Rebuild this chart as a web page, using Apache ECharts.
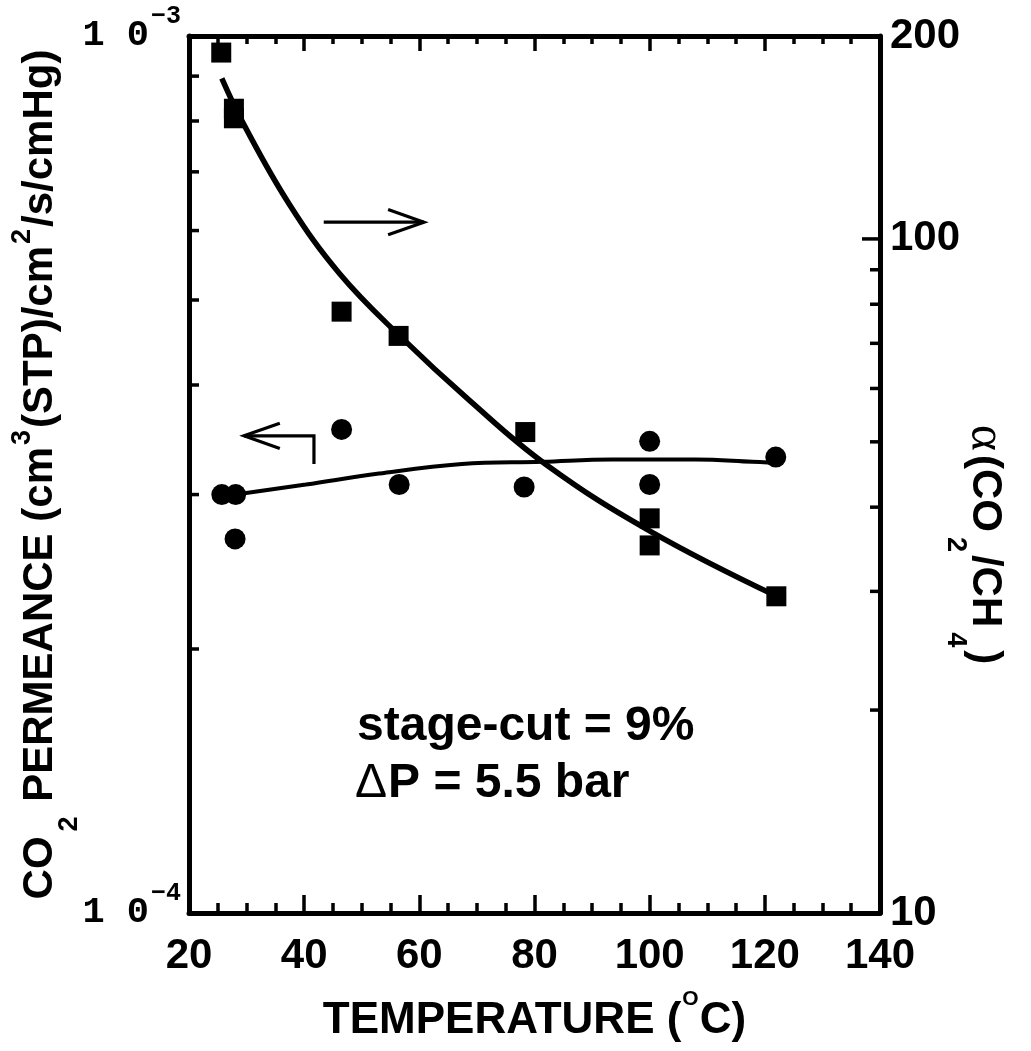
<!DOCTYPE html>
<html>
<head>
<meta charset="utf-8">
<script src="https://cdn.jsdelivr.net/npm/echarts@6/dist/echarts.min.js"></script>
<style>
  html, body { margin: 0; padding: 0; background: #fff; }
  #chart { width: 1031px; height: 1051px; }
</style>
</head>
<body>
<div id="chart"></div>
<script>
// ---- measured data ----
// CO2 permeance (left axis), cm3(STP)/cm2/s/cmHg
const circleTemps = [25.7, 28.1, 28.0, 46.5, 56.5, 78.2, 100, 100, 121.9];
const permeance   = [3.00e-4, 3.00e-4, 2.67e-4, 3.56e-4, 3.08e-4, 3.06e-4, 3.45e-4, 3.08e-4, 3.31e-4];

// CO2/CH4 separation factor (right axis)
const squareTemps = [25.6, 27.8, 27.8, 46.5, 56.4, 78.4, 100, 100, 122];
const alpha       = [189, 156, 151, 78, 71.8, 51.7, 38.5, 35.1, 29.5];

// fitted trend lines
const alphaFitTemps = [25.7, 29.4, 37.5, 46.2, 56.6, 68.8, 82.1, 100.2, 122.1];
const alphaFit      = [173, 148.5, 112.3, 88.7, 71.8, 57.5, 46.2, 36.8, 29.5];
const permFitTemps  = [28.1, 40.3, 53.0, 67.4, 81.3, 93.5, 108, 117.8, 121.9];
const permFit       = [3.00e-4, 3.08e-4, 3.17e-4, 3.25e-4, 3.27e-4, 3.29e-4, 3.29e-4, 3.27e-4, 3.26e-4];

// axes
const tempMin = 20, tempMax = 140, tempStep = 20;
const permMin = 1e-4, permMax = 1e-3;
const alphaMin = 10, alphaMax = 200;
const permMinorTicks  = [2e-4, 3e-4, 4e-4, 5e-4, 6e-4, 7e-4, 8e-4, 9e-4];
const alphaMinorTicks = [20, 30, 40, 50, 60, 70, 80, 90];
const alphaMajorTicks = [100];

// annotation arrows (temperature, axis value); last point is the tip
const alphaArrow = [[43.4, 105.9], [60.8, 105.9]];
const permArrow  = [[41.7, 3.25e-4], [41.7, 3.50e-4], [29.55, 3.50e-4]];

// ---- drawing ----
const SANS = '"Liberation Sans", Arial, Helvetica, sans-serif';
const MONO = '"Liberation Mono", "Courier New", monospace';
const SERIF = '"Liberation Serif", "Times New Roman", serif';
const INK = '#000';

const chart = echarts.init(document.getElementById('chart'), null, { renderer: 'canvas' });

function pairs(xs, ys) { return xs.map((x, i) => [x, ys[i]]); }

function tickRenderer(dir, len) {
  return function (params, api) {
    const p = api.coord([api.value(0), api.value(1)]);
    return {
      type: 'line',
      shape: { x1: p[0], y1: p[1], x2: p[0] + dir * len, y2: p[1] },
      style: { stroke: INK, lineWidth: 3.5 }
    };
  };
}

function arrowRenderer(nPts) {
  return function (params, api) {
    const pts = [];
    for (let i = 0; i < nPts; i++) pts.push(api.coord([api.value(2 * i), api.value(2 * i + 1)]));
    const tip = pts[nPts - 1], prev = pts[nPts - 2];
    const ang = Math.atan2(tip[1] - prev[1], tip[0] - prev[0]);
    const L = 38, spread = 0.34;
    const a1 = [tip[0] - L * Math.cos(ang - spread), tip[1] - L * Math.sin(ang - spread)];
    const a2 = [tip[0] - L * Math.cos(ang + spread), tip[1] - L * Math.sin(ang + spread)];
    return {
      type: 'group',
      children: [
        { type: 'polyline', shape: { points: pts }, style: { stroke: INK, lineWidth: 3.2, fill: null } },
        { type: 'polyline', shape: { points: [a1, tip, a2] }, style: { stroke: INK, lineWidth: 3.2, fill: null } }
      ]
    };
  };
}

function arrowEncode(n) {
  const x = [], y = [];
  for (let i = 0; i < n; i++) { x.push(2 * i); y.push(2 * i + 1); }
  return { x: x, y: y };
}

const tickLabel = { fontFamily: SANS, fontWeight: 'bold', fontSize: 42, color: INK, lineHeight: 42 };

function titleRich(lead) {
  return {
    m:   { fontFamily: SANS, fontWeight: 'bold', fontSize: 42, lineHeight: 80, color: INK },
    a:   { fontFamily: SERIF, fontWeight: 'normal', fontSize: 50, lineHeight: 80, color: INK, padding: [0, 4, 0, lead] },
    sub: { fontFamily: SANS, fontWeight: 'bold', fontSize: 27, verticalAlign: 'bottom', height: 21, color: INK, padding: [0, 3, 0, 5] },
    sup: { fontFamily: SANS, fontWeight: 'bold', fontSize: 27, verticalAlign: 'top', height: 45, color: INK, padding: [0, 2, 0, 2] }
  };
}

function xAxisBase(pos) {
  return {
    type: 'value', gridIndex: 0, position: pos,
    min: tempMin, max: tempMax, interval: tempStep,
    axisLine: { show: true, onZero: false, lineStyle: { color: INK, width: 5 } },
    axisTick: { show: true, inside: true, length: pos === 'bottom' ? 18 : 15, lineStyle: { color: INK, width: 3.5 } },
    minorTick: { show: true, splitNumber: 4, length: pos === 'bottom' ? 10 : 8, lineStyle: { color: INK, width: 3.5 } },
    splitLine: { show: false },
    minorSplitLine: { show: false }
  };
}

const xBottom = Object.assign(xAxisBase('bottom'), {
  axisLabel: Object.assign({ margin: 22 }, tickLabel),
  name: '{m|TEMPERATURE (}{sup|O}{m|C)}',
  nameLocation: 'middle',
  nameGap: 78,
  nameMoveOverlap: false,
  nameTextStyle: {
    rich: {
      m:   { fontFamily: SANS, fontWeight: 'bold', fontSize: 44, lineHeight: 60, color: INK },
      sup: { fontFamily: SANS, fontWeight: 'bold', fontSize: 21, verticalAlign: 'top', height: 17, color: INK, padding: [0, 1, 0, 1] }
    }
  }
});
const xTop = Object.assign(xAxisBase('top'), { axisLabel: { show: false } });

chart.setOption({
  animation: false,
  backgroundColor: '#fff',
  grid: { left: 189, top: 36, width: 691, height: 877, containLabel: false, outerBoundsMode: 'none' },
  xAxis: [xBottom, xTop],
  yAxis: [
    {
      type: 'log', logBase: 10, position: 'left', min: permMin, max: permMax,
      axisLine: { show: true, onZero: false, lineStyle: { color: INK, width: 5 } },
      axisTick: { show: false }, minorTick: { show: false }, splitLine: { show: false },
      axisLabel: {
        margin: 8,
        formatter: function (v) {
          return '{m|1 0}{s|\u2212' + Math.abs(Math.round(Math.log10(v))) + '}';
        },
        rich: {
          m: { fontFamily: MONO, fontWeight: 'bold', fontSize: 37, lineHeight: 46, color: INK },
          // bottom padding lifts the exponent above the mantissa
          s: { fontFamily: MONO, fontWeight: 'bold', fontSize: 25, lineHeight: 46, color: INK, padding: [0, 0, 38, 2] }
        }
      },
      name: '{m|CO}{sub|2}{m| PERMEANCE (cm}{sup|3}{m|(STP)/cm}{sup|2}{m|/s/cmHg)}',
      nameLocation: 'middle', nameGap: 109, nameRotate: 90, nameMoveOverlap: false,
      nameTextStyle: { rich: titleRich(0) }
    },
    {
      type: 'log', logBase: 10, position: 'right', min: alphaMin, max: alphaMax,
      axisLine: { show: true, onZero: false, lineStyle: { color: INK, width: 5 } },
      axisTick: { show: false }, minorTick: { show: false }, splitLine: { show: false },
      axisLabel: Object.assign({ margin: 10, formatter: v => String(Math.round(v)) }, tickLabel),
      name: '{a|\u03b1}{m|(CO}{sub|2}{m|/CH}{sub|4}{m|)}',
      nameLocation: 'middle', nameGap: 65, nameRotate: -90, nameMoveOverlap: false,
      nameTextStyle: { rich: titleRich(140) }
    }
  ],
  series: [
    {
      type: 'line', xAxisIndex: 0, yAxisIndex: 1, data: pairs(alphaFitTemps, alphaFit),
      smooth: 0.4, showSymbol: false, silent: true,
      lineStyle: { color: INK, width: 5.5 }, z: 3
    },
    {
      type: 'line', xAxisIndex: 0, yAxisIndex: 0, data: pairs(permFitTemps, permFit),
      smooth: 0.4, showSymbol: false, silent: true,
      lineStyle: { color: INK, width: 4 }, z: 3
    },
    {
      type: 'scatter', xAxisIndex: 0, yAxisIndex: 1, data: pairs(squareTemps, alpha),
      symbol: 'rect', symbolSize: 20, itemStyle: { color: INK, opacity: 1 }, silent: true, z: 5
    },
    {
      type: 'scatter', xAxisIndex: 0, yAxisIndex: 0, data: pairs(circleTemps, permeance),
      symbol: 'circle', symbolSize: 21, itemStyle: { color: INK, opacity: 1 }, silent: true, z: 5
    },
    {
      type: 'custom', xAxisIndex: 0, yAxisIndex: 0, silent: true, z: 6,
      data: permMinorTicks.map(v => [tempMin, v]), renderItem: tickRenderer(1, 10)
    },
    {
      type: 'custom', xAxisIndex: 0, yAxisIndex: 1, silent: true, z: 6,
      data: alphaMinorTicks.map(v => [tempMax, v]), renderItem: tickRenderer(-1, 10)
    },
    {
      type: 'custom', xAxisIndex: 0, yAxisIndex: 1, silent: true, z: 6,
      data: alphaMajorTicks.map(v => [tempMax, v]), renderItem: tickRenderer(-1, 18)
    },
    {
      type: 'custom', xAxisIndex: 0, yAxisIndex: 1, silent: true, z: 6,
      data: [alphaArrow.flat()], encode: arrowEncode(alphaArrow.length),
      renderItem: arrowRenderer(alphaArrow.length)
    },
    {
      type: 'custom', xAxisIndex: 0, yAxisIndex: 0, silent: true, z: 6,
      data: [permArrow.flat()], encode: arrowEncode(permArrow.length),
      renderItem: arrowRenderer(permArrow.length)
    }
  ],
  graphic: [
    {
      type: 'text', x: 357, y: 726.4, silent: true,
      style: { text: 'stage-cut = 9%', fontFamily: SANS, fontWeight: 'bold', fontSize: 48, fill: INK, verticalAlign: 'middle', align: 'left' }
    },
    {
      type: 'text', x: 355, y: 783.4, silent: true,
      style: {
        text: '{d|\u0394}{b|P = 5.5 bar}', verticalAlign: 'middle', align: 'left',
        rich: {
          d: { fontFamily: SANS, fontWeight: 'normal', fontSize: 48, fill: INK, padding: [0, 1, 0, 0] },
          b: { fontFamily: SANS, fontWeight: 'bold', fontSize: 48, fill: INK }
        }
      }
    }
  ]
});
</script>
</body>
</html>
